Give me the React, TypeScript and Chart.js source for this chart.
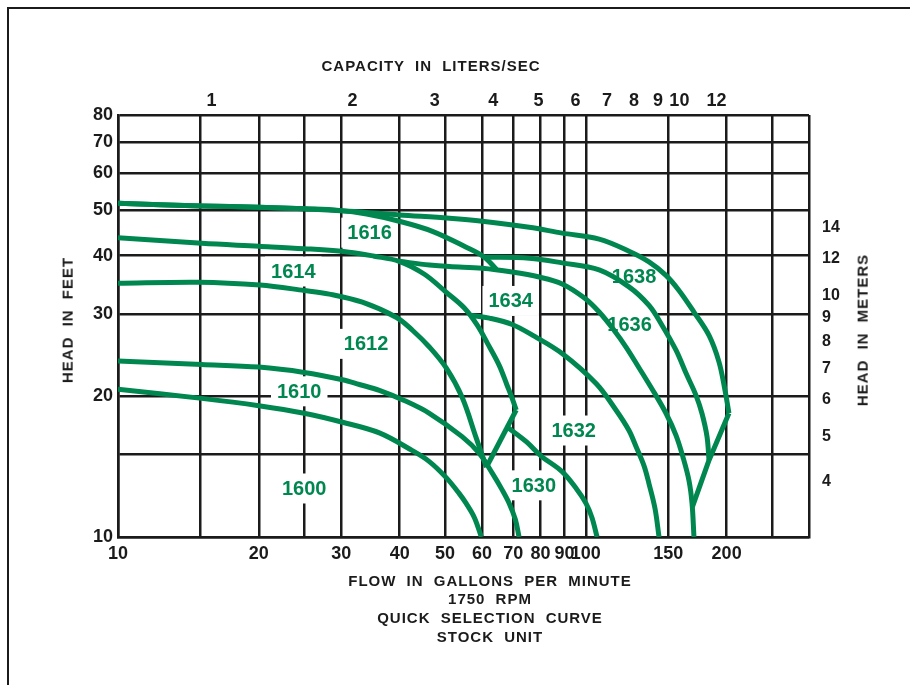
import { useEffect, useRef } from 'react';
import { Chart, registerables } from 'chart.js';

Chart.register(...registerables);

const GREEN = '#00874f';
const INK = '#1b1b1b';
const FONT = "'Liberation Sans', Arial, Helvetica, sans-serif";

// ---- axes ----
const GPM_GRID = [10, 15, 20, 25, 30, 40, 50, 60, 70, 80, 90, 100, 150, 200, 250, 300];
const GPM_LABELS = ['10', '', '20', '', '30', '40', '50', '60', '70', '80', '90', '100', '150', '200', '', ''];
const FT_GRID = [10, 15, 20, 30, 40, 50, 60, 70, 80];
const FT_LABELS = ['10', '', '20', '30', '40', '50', '60', '70', '80'];
const LPS_TICKS = [1, 2, 3, 4, 5, 6, 7, 8, 9, 10, 12];
const M_TICKS = [4, 5, 6, 7, 8, 9, 10, 12, 14];
const GPM_PER_LPS = 15.8503;
const FT_PER_M = 3.28084;

// ---- pump curves (flow in GPM, head in feet) ----
const C1600_GPM = [10, 15.1, 20, 25, 30.2, 36.2, 42.6, 46.3, 50.3, 53.6, 55.5, 57.8, 59.8];
const C1600_FT = [20.7, 19.8, 19.1, 18.4, 17.6, 16.7, 15.3, 14.5, 13.4, 12.4, 11.8, 11.0, 10.0];

const C1610_GPM = [10, 15.1, 20, 25, 30.2, 32.8, 36.2, 40.9, 46.3, 54.4, 59.2, 63.1, 66.3, 68.6, 70.7, 72];
const C1610_FT = [23.8, 23.4, 23.1, 22.5, 21.7, 21.2, 20.6, 19.6, 18.4, 16.4, 15.1, 13.7, 12.6, 11.8, 10.9, 10];

const C1612_GPM = [10, 14.9, 20.1, 25, 28.3, 33.3, 39.4, 42.6, 46.3, 50.3, 54.4, 58.3, 61.3];
const C1612_FT = [34.9, 35.1, 34.6, 33.7, 33.1, 31.8, 29.5, 27.7, 25.5, 23.0, 19.9, 16.3, 14.1];

const C1614_GPM = [10, 15.1, 20, 25, 31.2, 35.3, 39.9, 45.2, 50.3, 55, 58.6, 61.6, 65.3, 67.9, 69.6, 71];
const C1614_FT = [43.7, 42.5, 41.9, 41.4, 40.7, 39.9, 38.9, 36.5, 33.4, 30.9, 28.4, 26, 23.3, 21.1, 19.8, 18.7];

const C1616_GPM = [10, 15.1, 20, 25, 29.7, 34, 39.9, 47, 55.5, 60.7, 64.4];
const C1616_FT = [51.8, 51.1, 50.8, 50.4, 50.0, 49.1, 47.4, 45.1, 41.7, 39.7, 37.4];

const C1630_GPM = [67.9, 74.6, 80.3, 89, 95.4, 100.1, 103.1, 105.7];
const C1630_FT = [17.2, 16.0, 14.9, 13.8, 12.7, 11.8, 11.0, 10];

const C1632_GPM = [56.9, 62.2, 69.6, 77.6, 89, 105.2, 116, 123.7, 128.1, 133.2, 136.5, 140.6, 143.4];
const C1632_FT = [29.8, 29.4, 28.5, 26.9, 24.7, 21.3, 18.7, 16.9, 15.6, 14.2, 13.0, 11.5, 10];

const C1634_GPM = [39.9, 46.3, 51.1, 60.1, 69.6, 79.5, 89, 99.2, 106.8, 114.9, 121.9, 130, 139.9, 148.4, 155.9, 161.4, 166.2, 168.7, 170.3];
const C1634_FT = [38.9, 38.2, 37.9, 37.6, 36.9, 36.0, 34.8, 32.5, 30.3, 27.7, 25.5, 23.0, 20.4, 18.4, 16.5, 14.8, 13.2, 11.8, 10];

const C1636_GPM = [60.7, 75.7, 89, 106.8, 123.7, 136.5, 145.5, 155.9, 163.8, 172, 177.1, 181.6, 183.4];
const C1636_FT = [39.7, 39.5, 38.6, 37.3, 34.3, 31.3, 28.4, 25.1, 22.4, 20.1, 18.4, 16.4, 14.6];

const C1638_GPM = [10, 15.1, 20, 25, 31.2, 39.9, 51.1, 60.1, 75.7, 89, 106.8, 123.7, 136.5, 148.4, 158.2, 170.3, 183.4, 192.6, 198.4, 202.3];
const C1638_FT = [51.8, 51.1, 50.8, 50.4, 49.8, 48.9, 48.1, 47.4, 46.0, 44.7, 43.4, 40.9, 38.8, 36.3, 33.7, 30.3, 27.0, 23.7, 20.6, 18.4];

// straight connecting lines between curve ends
const LINK_A_GPM = [61.3, 71.0];
const LINK_A_FT = [14.1, 18.7];
const LINK_B_GPM = [169.0, 183.4, 202.3];
const LINK_B_FT = [11.6, 14.6, 18.4];

// ---- curve labels ----
const LABEL_TEXT = ['1616', '1614', '1612', '1610', '1600', '1634', '1638', '1636', '1632', '1630'];
const LABEL_GPM = [34.5, 23.7, 33.9, 24.4, 25.0, 69.1, 126.8, 124.0, 94.2, 77.4];
const LABEL_FT = [44.8, 37.0, 25.9, 20.5, 12.7, 32.0, 36.1, 28.5, 16.9, 12.9];

const pts = (xs: number[], ys: number[]) => xs.map((x, i) => ({ x, y: ys[i] }));

const SERIES = [
  { name: '1600', gpm: C1600_GPM, ft: C1600_FT, smooth: true },
  { name: '1610', gpm: C1610_GPM, ft: C1610_FT, smooth: true },
  { name: '1612', gpm: C1612_GPM, ft: C1612_FT, smooth: true },
  { name: '1614', gpm: C1614_GPM, ft: C1614_FT, smooth: true },
  { name: '1616', gpm: C1616_GPM, ft: C1616_FT, smooth: true },
  { name: '1630', gpm: C1630_GPM, ft: C1630_FT, smooth: true },
  { name: '1632', gpm: C1632_GPM, ft: C1632_FT, smooth: true },
  { name: '1634', gpm: C1634_GPM, ft: C1634_FT, smooth: true },
  { name: '1636', gpm: C1636_GPM, ft: C1636_FT, smooth: true },
  { name: '1638', gpm: C1638_GPM, ft: C1638_FT, smooth: true },
  { name: 'link-a', gpm: LINK_A_GPM, ft: LINK_A_FT, smooth: false },
  { name: 'link-b', gpm: LINK_B_GPM, ft: LINK_B_FT, smooth: false },
];

const textStyle: any = {
  position: 'absolute',
  fontFamily: FONT,
  fontWeight: 700,
  fontSize: 15,
  letterSpacing: '1px',
  wordSpacing: '5px',
  color: INK,
  whiteSpace: 'nowrap',
  lineHeight: '18.7px',
};

export default function App() {
  const ref = useRef<HTMLCanvasElement>(null);

  useEffect(() => {
    if (!ref.current) return;

    const labelPlugin = {
      id: 'curveLabels',
      beforeDatasetsDraw(chart: any) {
        const { ctx, scales } = chart;
        ctx.save();
        ctx.font = `bold 20px ${FONT}`;
        ctx.fillStyle = '#ffffff';
        LABEL_TEXT.forEach((t, i) => {
          const px = scales.x.getPixelForValue(LABEL_GPM[i]);
          const py = scales.y.getPixelForValue(LABEL_FT[i]);
          const w = ctx.measureText(t).width;
          ctx.fillRect(px - w / 2 - 6, py - 15, w + 12, 30);
        });
        ctx.restore();
      },
      afterDatasetsDraw(chart: any) {
        const { ctx, scales } = chart;
        ctx.save();
        ctx.font = `bold 20px ${FONT}`;
        ctx.fillStyle = GREEN;
        ctx.textAlign = 'center';
        ctx.textBaseline = 'middle';
        LABEL_TEXT.forEach((t, i) => {
          const px = scales.x.getPixelForValue(LABEL_GPM[i]);
          const py = scales.y.getPixelForValue(LABEL_FT[i]);
          ctx.fillText(t, px, py + 1);
        });
        ctx.restore();
      },
    };

    const tickFont = { family: FONT, size: 18, weight: 'bold' as const };

    const chart = new Chart(ref.current, {
      type: 'line',
      data: {
        datasets: SERIES.map((s) => ({
          label: s.name,
          data: pts(s.gpm, s.ft),
          borderColor: GREEN,
          backgroundColor: GREEN,
          borderWidth: 5,
          pointRadius: 0,
          fill: false,
          borderCapStyle: 'butt' as const,
          borderJoinStyle: 'round' as const,
          tension: s.smooth ? 0.35 : 0,
          cubicInterpolationMode: 'default' as const,
          xAxisID: 'x',
          yAxisID: 'y',
        })),
      },
      options: {
        responsive: false,
        animation: false,
        layout: { padding: 0 },
        plugins: {
          legend: { display: false },
          tooltip: { enabled: false },
          title: { display: false },
        },
        scales: {
          x: {
            type: 'logarithmic',
            position: 'bottom',
            min: 10,
            max: 300,
            afterBuildTicks: (s: any) => {
              s.ticks = GPM_GRID.map((v) => ({ value: v }));
            },
            afterFit: (s: any) => {
              s.height = 148;
            },
            ticks: {
              autoSkip: false,
              maxRotation: 0,
              minRotation: 0,
              padding: 6,
              color: INK,
              font: tickFont,
              callback: (_v: any, i: number) => GPM_LABELS[i],
            },
            grid: { color: INK, lineWidth: 2.5, drawTicks: false },
            border: { display: true, color: INK, width: 2.5 },
          },
          xTop: {
            type: 'logarithmic',
            position: 'top',
            min: 10,
            max: 300,
            afterBuildTicks: (s: any) => {
              s.ticks = LPS_TICKS.map((v) => ({ value: v * GPM_PER_LPS }));
            },
            afterFit: (s: any) => {
              s.height = 115;
            },
            ticks: {
              autoSkip: false,
              maxRotation: 0,
              minRotation: 0,
              padding: 3,
              color: INK,
              font: tickFont,
              callback: (_v: any, i: number) => String(LPS_TICKS[i]),
            },
            grid: { display: false, drawTicks: false },
            border: { display: false },
          },
          y: {
            type: 'logarithmic',
            position: 'left',
            min: 10,
            max: 80,
            afterBuildTicks: (s: any) => {
              s.ticks = FT_GRID.map((v) => ({ value: v }));
            },
            afterFit: (s: any) => {
              s.width = 118;
            },
            ticks: {
              autoSkip: false,
              padding: 5,
              color: INK,
              font: tickFont,
              callback: (_v: any, i: number) => FT_LABELS[i],
            },
            grid: { color: INK, lineWidth: 2.5, drawTicks: false },
            border: { display: true, color: INK, width: 2.5 },
          },
          yRight: {
            type: 'logarithmic',
            position: 'right',
            min: 10,
            max: 80,
            afterBuildTicks: (s: any) => {
              s.ticks = M_TICKS.map((v) => ({ value: v * FT_PER_M }));
            },
            afterFit: (s: any) => {
              s.width = 101;
            },
            ticks: {
              autoSkip: false,
              padding: 13,
              color: INK,
              font: { family: FONT, size: 16, weight: 'bold' as const },
              callback: (_v: any, i: number) => String(M_TICKS[i]),
            },
            grid: { display: false, drawTicks: false },
            border: { display: false },
          },
        },
      } as any,
      plugins: [labelPlugin],
    });

    return () => chart.destroy();
  }, []);

  return (
    <div
      style={{
        position: 'fixed',
        left: 0,
        top: 0,
        width: 910,
        height: 685,
        background: '#ffffff',
        overflow: 'hidden',
      }}
    >
      <div
        style={{
          position: 'absolute',
          left: 7,
          top: 7,
          width: 1000,
          height: 1000,
          borderLeft: `2px solid ${INK}`,
          borderTop: `2px solid ${INK}`,
        }}
      />
      <canvas
        ref={ref}
        width={910}
        height={685}
        style={{ position: 'absolute', left: 0, top: 0, width: 910, height: 685 }}
      />
      <div style={{ ...textStyle, left: 431, top: 66, transform: 'translate(-50%, -50%)' }}>
        CAPACITY IN LITERS/SEC
      </div>
      <div
        style={{
          ...textStyle,
          left: 490,
          top: 571.5,
          transform: 'translateX(-50%)',
          textAlign: 'center',
        }}
      >
        <div>FLOW IN GALLONS PER MINUTE</div>
        <div>1750 RPM</div>
        <div>QUICK SELECTION CURVE</div>
        <div>STOCK UNIT</div>
      </div>
      <div style={{ ...textStyle, left: 68, top: 320, transform: 'translate(-50%, -50%) rotate(-90deg)' }}>
        HEAD IN FEET
      </div>
      <div style={{ ...textStyle, left: 863, top: 330, transform: 'translate(-50%, -50%) rotate(-90deg)' }}>
        HEAD IN METERS
      </div>
    </div>
  );
}
